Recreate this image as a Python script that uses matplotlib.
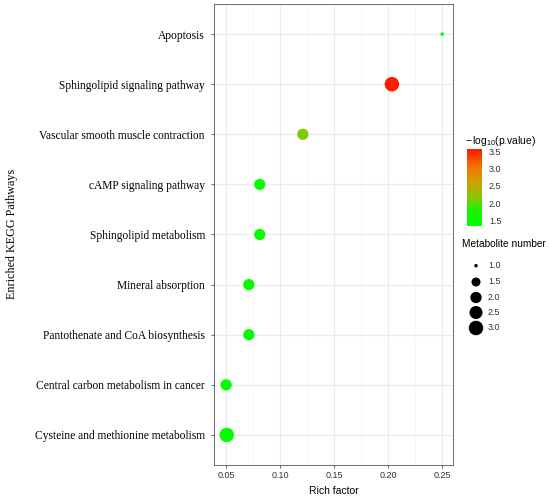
import numpy as np
import matplotlib
matplotlib.use('Agg')
import matplotlib.pyplot as plt
from matplotlib.colors import LinearSegmentedColormap, Normalize
from matplotlib.cm import ScalarMappable

# ---- data (bottom to top) ----
pathways = ['Cysteine and methionine metabolism',
            'Central carbon metabolism in cancer',
            'Pantothenate and CoA biosynthesis',
            'Mineral absorption',
            'Sphingolipid metabolism',
            'cAMP signaling pathway',
            'Vascular smooth muscle contraction',
            'Sphingolipid signaling pathway',
            'Apoptosis']
rich_factor = [0.0508, 0.0502, 0.0712, 0.0712, 0.0813, 0.0813, 0.1212, 0.2035, 0.25]
metab_num = [3, 2, 2, 2, 2, 2, 2, 3, 1]
log_p = [1.45, 1.40, 1.40, 1.40, 1.45, 1.45, 2.15, 3.56, 1.38]

size_levels = [1.0, 1.5, 2.0, 2.5, 3.0]
cbar_ticks = [1.5, 2.0, 2.5, 3.0, 3.5]

SERIF = 'Liberation Serif'
SANS = 'Liberation Sans'
plt.rcParams['mathtext.default'] = 'regular'

cmap = LinearSegmentedColormap.from_list(
    'gr', [(0.0, '#00ff00'), (0.22, '#22ee00'), (0.35, '#7acc00'),
           (0.55, '#c8a400'), (0.75, '#f27a00'), (1.0, '#ff1a00')])
norm = Normalize(vmin=1.35, vmax=3.56)

PX = 0.72  # points per pixel at dpi 100


def msize(v):
    # area-like scale, diameter in pixels ~3.5 .. 14.5
    d = 3.5 + 11.0 * np.sqrt((np.asarray(v, float) - 1) / 2.0)
    return (d * PX) ** 2


fig = plt.figure(figsize=(5.5, 4.97), dpi=100)
ax = fig.add_axes([214 / 550, 1 - 465 / 497, (453 - 214) / 550, (465 - 4) / 497])

ypos = np.arange(1, len(pathways) + 1)
ax.scatter(rich_factor, ypos, s=msize(metab_num), c=log_p, cmap=cmap, norm=norm,
           edgecolors='none', zorder=3)

ax.set_xlim(0.039, 0.260)
ax.set_ylim(0.4, 9.6)
ax.set_xticks([0.05, 0.10, 0.15, 0.20, 0.25])
ax.set_xticklabels(['0.05', '0.10', '0.15', '0.20', '0.25'], fontsize=6.5, family=SANS, color='#333333')
ax.set_xticks([0.075, 0.125, 0.175, 0.225], minor=True)
ax.set_yticks(ypos)
ax.set_yticklabels(pathways, fontsize=8.3, family=SERIF, color='black')
ax.grid(True, which='major', color='#ebebeb', linewidth=0.8, zorder=0)
ax.grid(True, which='minor', axis='x', color='#f4f4f4', linewidth=0.5, zorder=0)
ax.tick_params(axis='both', which='major', length=2.5, width=0.5, color='#333333', pad=2)
ax.tick_params(axis='x', which='minor', length=0)
ax.tick_params(axis='y', pad=4)
for sp in ax.spines.values():
    sp.set_color('#555555')
    sp.set_linewidth(0.6)
ax.set_axisbelow(True)

ax.set_xlabel('Rich factor', fontsize=7.5, family=SANS, labelpad=4)
fig.text(12 / 550, 1 - 234 / 497, 'Enriched KEGG Pathways', rotation=90, ha='center', va='center',
         fontsize=8.7, family=SERIF)

# ---- colour legend ----
fig.text(465 / 550, 1 - 141 / 497, r'$-\,log_{10}$(p.value)', fontsize=7.4, family=SANS,
         ha='left', va='center')
cax = fig.add_axes([467 / 550, 1 - 226 / 497, 15 / 550, 77 / 497])
cb = fig.colorbar(ScalarMappable(norm=norm, cmap=cmap), cax=cax, ticks=cbar_ticks)
cb.outline.set_visible(False)
cb.ax.tick_params(length=3, width=0.6, color='white', labelsize=6.5, pad=2)
cb.ax.set_yticklabels(['1.5', '2.0', '2.5', '3.0', '3.5'], family=SANS, color='#333333')

# ---- size legend ----
fig.text(462 / 550, 1 - 244 / 497, 'Metabolite number', fontsize=7.3, family=SANS,
         ha='left', va='center')
lax = fig.add_axes([462 / 550, 1 - 336 / 497, 60 / 550, 78 / 497])
lax.set_axis_off()
lax.set_xlim(0, 60)
lax.set_ylim(336, 258)
ly = [265.7, 282, 297.5, 312.5, 328]
lax.scatter([14] * len(size_levels), ly, s=msize(size_levels), color='black', edgecolors='none')
for yy, lv in zip(ly, size_levels):
    lax.text(26, yy, '%.1f' % lv, fontsize=6.5, family=SANS, color='#333333', va='center')

fig.savefig('out.png', dpi=100)
